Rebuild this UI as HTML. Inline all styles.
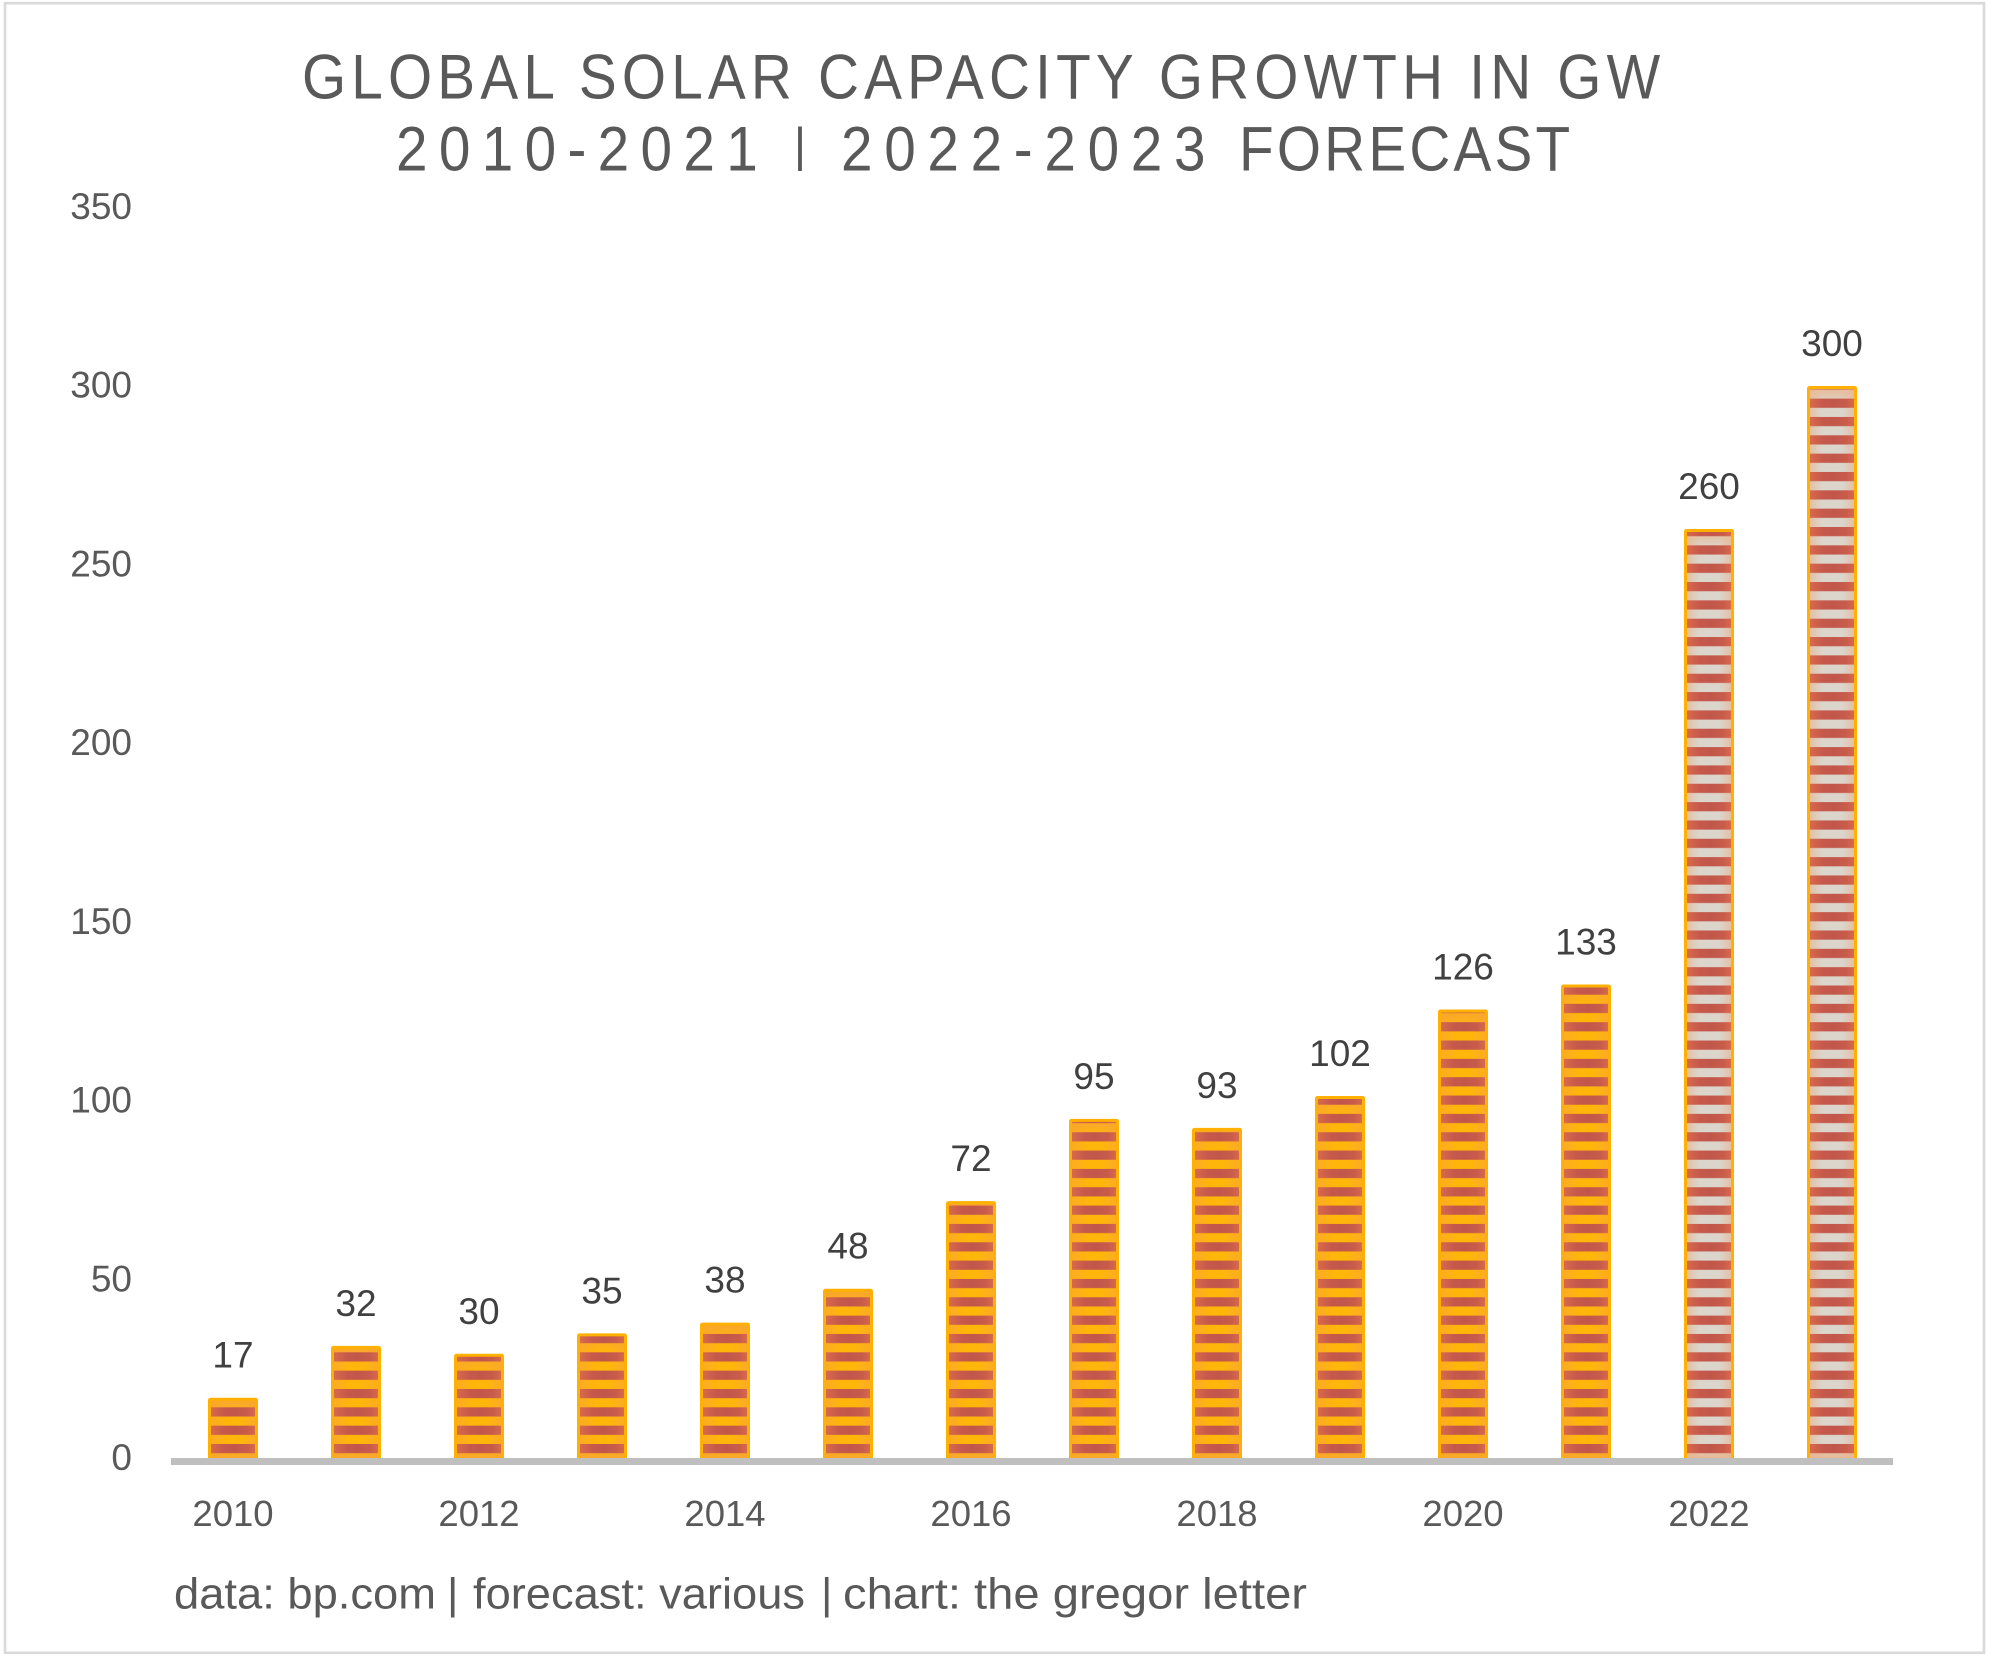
<!DOCTYPE html>
<html lang="en">
<head>
<meta charset="utf-8">
<title>Global Solar Capacity Growth in GW</title>
<style>
html,body{margin:0;padding:0;background:#fff;width:1993px;height:1663px;overflow:hidden}
svg{display:block}
text{font-family:"Liberation Sans",Arial,sans-serif}
</style>
</head>
<body>
<svg id="chart" xmlns="http://www.w3.org/2000/svg" width="1993" height="1663" viewBox="0 0 1993 1663">
  <defs>
    <linearGradient id="red-fill"><stop offset="0" stop-color="#d96b4c"/><stop offset=".3" stop-color="#c6594b"/><stop offset=".55" stop-color="#c1564b"/><stop offset=".8" stop-color="#c85c4b"/><stop offset="1" stop-color="#d96b4c"/></linearGradient>
    <linearGradient id="gap-history"><stop offset="0" stop-color="#fbab26"/><stop offset=".35" stop-color="#ffb50a"/><stop offset=".65" stop-color="#ffb60a"/><stop offset="1" stop-color="#fbab26"/></linearGradient>
    <linearGradient id="gap-forecast"><stop offset="0" stop-color="#e6bd9f"/><stop offset=".28" stop-color="#dbd5cc"/><stop offset=".72" stop-color="#dbd5cc"/><stop offset="1" stop-color="#e6bd9f"/></linearGradient>
    <linearGradient id="fade-top-history" x2="0" y2="1"><stop offset="0" stop-color="#f9a62e"/><stop offset="1" stop-color="#f9a62e" stop-opacity="0"/></linearGradient>
    <linearGradient id="fade-bottom-history" x2="0" y2="1"><stop offset="0" stop-color="#f9a62e" stop-opacity="0"/><stop offset="1" stop-color="#f9a62e"/></linearGradient>
    <linearGradient id="fade-top-forecast" x2="0" y2="1"><stop offset="0" stop-color="#e8b995"/><stop offset="1" stop-color="#e8b995" stop-opacity="0"/></linearGradient>
    <linearGradient id="fade-bottom-forecast" x2="0" y2="1"><stop offset="0" stop-color="#e8b68e" stop-opacity="0"/><stop offset="1" stop-color="#e8b68e"/></linearGradient>
    <pattern id="stripe-tile" patternUnits="userSpaceOnUse" x="0" y="1444" width="20" height="18.34">
      <rect x="0" y="0" width="20" height="9.2" fill="#fff"/>
    </pattern>
    <mask id="stripe-mask" maskUnits="userSpaceOnUse" x="0" y="0" width="1993" height="1663">
      <rect x="0" y="0" width="1993" height="1663" fill="url(#stripe-tile)"/>
    </mask>
  </defs>

  <rect x="0" y="0" width="1993" height="1663" fill="#ffffff"/>
  <rect x="5" y="3.2" width="1979" height="1649.6" fill="none" stroke="#d9d9d9" stroke-width="2.6"/>

  <g>
    <text transform="translate(302,98.3) scale(.9,1)" font-size="63" fill="#595959" textLength="1509" lengthAdjust="spacing">GLOBAL SOLAR CAPACITY GROWTH IN GW</text>
    <text transform="translate(396,170.7) scale(.9,1)" font-size="63" fill="#595959" textLength="402" lengthAdjust="spacing">2010-2021</text>
    <text x="800" y="161" font-size="47" fill="#595959" text-anchor="middle">|</text>
    <text transform="translate(841,170.7) scale(.9,1)" font-size="63" fill="#595959" textLength="405" lengthAdjust="spacing">2022-2023</text>
    <text transform="translate(1239,170.7) scale(.9,1)" font-size="63" fill="#595959" textLength="368" lengthAdjust="spacing">FORECAST</text>
  </g>

  <g id="y-axis-labels"></g>
  <g id="bars"></g>
  <g id="data-labels"></g>
  <g id="x-axis-labels"></g>

  <line x1="171" y1="1461.5" x2="1893" y2="1461.5" stroke="#bfbfbf" stroke-width="7"/>

  <g>
    <text x="174" y="1608.5" font-size="44" fill="#595959" textLength="262" lengthAdjust="spacingAndGlyphs">data: bp.com</text>
    <text x="447" y="1608.5" font-size="44" fill="#595959">|</text>
    <text x="473" y="1608.5" font-size="44" fill="#595959" textLength="332" lengthAdjust="spacingAndGlyphs">forecast: various</text>
    <text x="821" y="1608.5" font-size="44" fill="#595959">|</text>
    <text x="843" y="1608.5" font-size="44" fill="#595959" textLength="464" lengthAdjust="spacingAndGlyphs">chart: the gregor letter</text>
  </g>
</svg>

<script>
const years = [2010, 2011, 2012, 2013, 2014, 2015, 2016, 2017, 2018, 2019, 2020, 2021, 2022, 2023];
const capacityGW = [17, 31.5, 29.3, 35, 38, 47.5, 72, 95, 92.5, 101.4, 125.6, 132.6, 260, 300];
const printedValues = [17, 32, 30, 35, 38, 48, 72, 95, 93, 102, 126, 133, 260, 300];
const isForecast = [false, false, false, false, false, false, false, false, false, false, false, false, true, true];
const yTickValues = [0, 50, 100, 150, 200, 250, 300, 350];
const xTickYears = [2010, 2012, 2014, 2016, 2018, 2020, 2022];

const SVG_NS = 'http://www.w3.org/2000/svg';
const Y_ZERO = 1460;
const PX_PER_GW = 3.575;
const X_FIRST = 233;
const X_STEP = 123;
const BAR_WIDTH = 47;

function yScale(value) { return Y_ZERO - value * PX_PER_GW; }
function xScale(year) { return X_FIRST + (year - years[0]) * X_STEP; }

function make(tag, props) {
  const el = document.createElementNS(SVG_NS, tag);
  for (const key in props) el.setAttribute(key, props[key]);
  return el;
}

const yGroup = document.getElementById('y-axis-labels');
yTickValues.forEach(function (tick) {
  const label = make('text', { x: 132, y: yScale(tick) + 10, 'font-size': 37, fill: '#595959', 'text-anchor': 'end' });
  
  
  label.textContent = String(tick);
  yGroup.appendChild(label);
});

const xGroup = document.getElementById('x-axis-labels');
xTickYears.forEach(function (year) {
  const label = make('text', { x: xScale(year), y: 1526, 'font-size': 36.5, fill: '#595959', 'text-anchor': 'middle' });
  
  
  label.textContent = String(year);
  xGroup.appendChild(label);
});

const barGroup = document.getElementById('bars');
const labelGroup = document.getElementById('data-labels');
years.forEach(function (year, i) {
  const top = yScale(capacityGW[i]);
  const left = xScale(year) - BAR_WIDTH / 2;
  const height = Y_ZERO - top;
  const kind = isForecast[i] ? 'forecast' : 'history';
  const fadeHeight = Math.min(18, height / 2);

  const bar = make('g', {});
  
  

  const gap = make('rect', { x: left, y: top, width: BAR_WIDTH, height: height, fill: 'url(#gap-' + kind + ')' });
  
  
  bar.appendChild(gap);

  const fadeTop = make('rect', { x: left, y: top, width: BAR_WIDTH, height: fadeHeight, fill: 'url(#fade-top-' + kind + ')' });
  
  
  bar.appendChild(fadeTop);

  const fadeBottom = make('rect', { x: left, y: Y_ZERO - fadeHeight, width: BAR_WIDTH, height: fadeHeight, fill: 'url(#fade-bottom-' + kind + ')' });
  
  
  bar.appendChild(fadeBottom);

  const stripes = make('rect', { x: left, y: top, width: BAR_WIDTH, height: height, fill: 'url(#red-fill)', mask: 'url(#stripe-mask)' });
  
  
  bar.appendChild(stripes);

  const outline = make('rect', { x: left, y: top, width: BAR_WIDTH, height: height, rx: 1, fill: 'none', stroke: '#ffb000', 'stroke-width': 3 });
  
  
  bar.appendChild(outline);

  barGroup.appendChild(bar);

  const valueLabel = make('text', { x: xScale(year), y: top - 31.5, 'font-size': 37, fill: '#404040', 'text-anchor': 'middle' });
  
  
  valueLabel.textContent = String(printedValues[i]);
  labelGroup.appendChild(valueLabel);
});
</script>
</body>
</html>
